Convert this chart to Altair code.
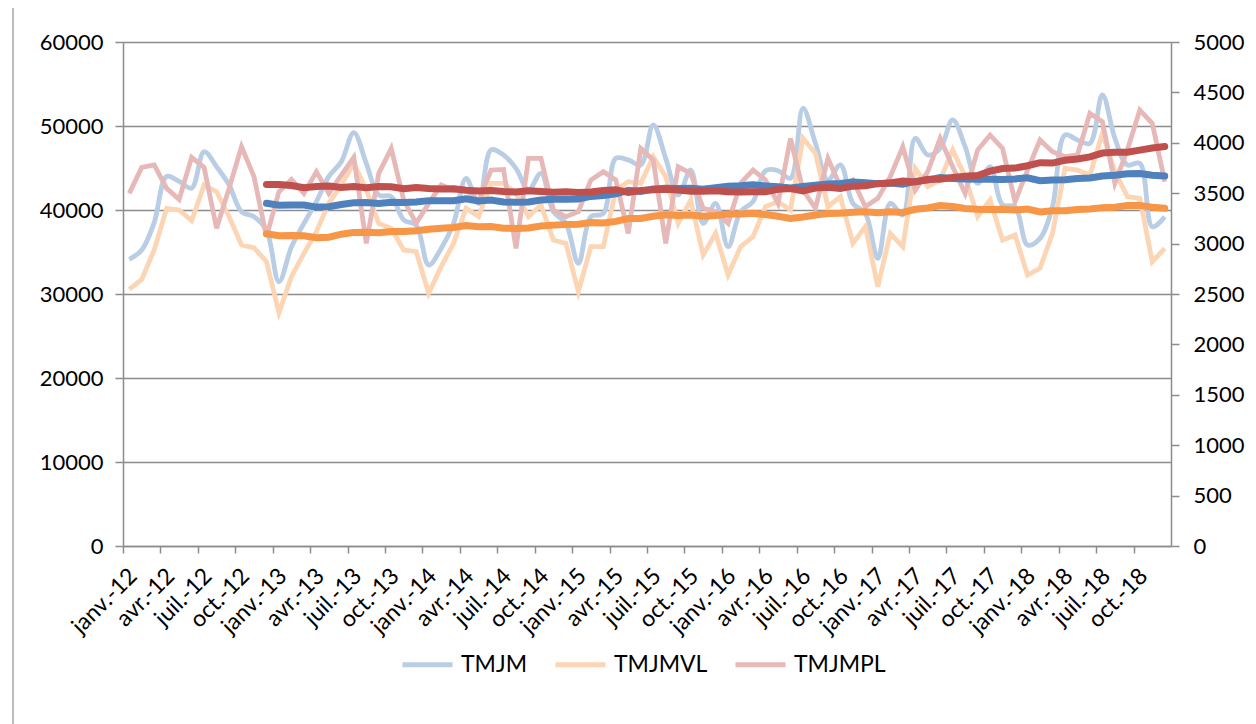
import json
import altair as alt
import pandas as pd

series_names = ["TMJM", "TMJMVL", "TMJMPL"]
light_colors = ["#B9CDE5", "#FCD5B5", "#E6B9B8"]
ma_colors = {"TMJM": "#4F81BD", "TMJMVL": "#F79646", "TMJMPL": "#C0504D"}

tick_labels = [
    "janv.-12", "avr.-12", "juil.-12", "oct.-12",
    "janv.-13", "avr.-13", "juil.-13", "oct.-13",
    "janv.-14", "avr.-14", "juil.-14", "oct.-14",
    "janv.-15", "avr.-15", "juil.-15", "oct.-15",
    "janv.-16", "avr.-16", "juil.-16", "oct.-16",
    "janv.-17", "avr.-17", "juil.-17", "oct.-17",
    "janv.-18", "avr.-18", "juil.-18", "oct.-18",
]

# monthly values, janv. 2012 -> déc. 2018
tmjm = [
    34130, 35240, 38500, 44000, 43400, 42600, 46950, 45160, 43000, 39800, 39200, 37600,
    31460, 35600, 38400, 41000, 44000, 45760, 49210, 45560, 41790, 41590, 38810, 38210,
    33450, 35430, 38410, 43770, 40790, 47150, 46550, 44960, 42380, 44370, 39800, 38410,
    33650, 39210, 39600, 46150, 45960, 45360, 50120, 46150, 41790, 44760, 38410, 40790,
    35630, 39800, 41000, 44680, 44680, 43770, 52110, 47940, 43570, 45360, 40790, 39600,
    34240, 40790, 39400, 48540, 46550, 47340, 50720, 47540, 43170, 45160, 40600, 40400,
    35830, 36620, 40400, 48930, 48340, 47940, 53700, 48540, 45360, 45560, 38010, 39210,
]
tmjmvl = [
    30550, 31740, 35240, 40200, 40000, 38730, 42980, 42180, 39200, 35830, 35500, 33850,
    27770, 32060, 34840, 37420, 40800, 42980, 45560, 42380, 38410, 37820, 35240, 35040,
    30080, 33250, 36030, 40200, 39210, 43180, 43180, 41990, 39210, 40600, 36430, 36030,
    30270, 35630, 35630, 42380, 43370, 43180, 46350, 43970, 38410, 41190, 34640, 37220,
    32260, 35630, 36820, 40400, 40990, 40000, 48540, 46750, 40400, 41590, 36030, 38020,
    30870, 37220, 35630, 44960, 42780, 43570, 47150, 43970, 39210, 41190, 36430, 37020,
    32260, 33060, 37220, 44960, 44760, 44170, 49130, 44570, 41590, 41390, 33850, 35430,
]
tmjmpl = [
    3498, 3756, 3780, 3548, 3439, 3856, 3756, 3151, 3548, 3961, 3664, 3069,
    3515, 3637, 3498, 3713, 3498, 3680, 3855, 3002, 3697, 3945, 3432, 3201,
    3399, 3581, 3531, 3531, 3416, 3730, 3736, 2953, 3846, 3846, 3333, 3267,
    3316, 3631, 3713, 3631, 3101, 3945, 3829, 3002, 3763, 3697, 3350, 3316,
    3201, 3598, 3730, 3631, 3399, 4044, 3531, 3350, 3846, 3565, 3631, 3366,
    3449, 3664, 3961, 3531, 3713, 4044, 3763, 3498, 3928, 4077, 3945, 3416,
    3730, 4028, 3912, 3862, 3879, 4292, 4209, 3598, 3928, 4325, 4193, 3614,
]

rows = []
for name, vals in zip(series_names, [tmjm, tmjmvl, tmjmpl]):
    for i, v in enumerate(vals):
        rows.append({"idx": i, "t": i + 0.5, "serie": name, "value": v})
df = pd.DataFrame(rows)

FONT = "Lato"
GRAY = "#8C8C8C"

label_expr = json.dumps(tick_labels) + "[round(datum.value / 3)]"

x_enc = alt.X(
    "t:Q",
    scale=alt.Scale(domain=[0, 84], nice=False, zero=False),
    axis=alt.Axis(
        values=list(range(0, 84, 3)),
        labelExpr=label_expr,
        labelAngle=315,
        labelAlign="right",
        labelBaseline="middle",
        labelOffset=10,
        labelPadding=19,
        labelFontSize=23,
        labelFont=FONT,
        labelColor="#000000",
        tickSize=7,
        tickColor=GRAY,
        tickWidth=1.5,
        domainColor=GRAY,
        domainWidth=1.5,
        grid=False,
        title=None,
        labelOverlap=False,
    ),
)


def left_scale():
    return alt.Scale(domain=[0, 60000], nice=False, zero=True)


def right_scale():
    return alt.Scale(domain=[0, 5000], nice=False, zero=True)


y_left_axis = alt.Y(
    "value:Q",
    scale=left_scale(),
    axis=alt.Axis(
        values=[0, 10000, 20000, 30000, 40000, 50000, 60000],
        format="d",
        grid=True,
        gridColor=GRAY,
        gridWidth=1.5,
        tickSize=8,
        tickColor=GRAY,
        tickWidth=1.5,
        domainColor=GRAY,
        domainWidth=1.5,
        labelFontSize=22,
        labelFont=FONT,
        labelColor="#000000",
        labelPadding=12,
        title=None,
    ),
)
y_left_noaxis = alt.Y("value:Q", scale=left_scale(), axis=None)
y_right_axis = alt.Y(
    "value:Q",
    scale=right_scale(),
    axis=alt.Axis(
        orient="right",
        values=list(range(0, 5001, 500)),
        format="d",
        grid=False,
        tickSize=8,
        tickColor=GRAY,
        tickWidth=1.5,
        domainColor=GRAY,
        domainWidth=1.5,
        labelFontSize=22,
        labelFont=FONT,
        labelColor="#000000",
        labelPadding=14,
        title=None,
    ),
)

color_enc = alt.Color(
    "serie:N",
    scale=alt.Scale(domain=series_names, range=light_colors),
    legend=alt.Legend(
        orient="none",
        legendX=277,
        legendY=595,
        direction="horizontal",
        title=None,
        symbolType="stroke",
        symbolSize=2500,
        symbolStrokeWidth=5,
        labelFontSize=23,
        labelFont=FONT,
        labelColor="#000000",
        columnPadding=17,
        labelOffset=6,
    ),
)

base = alt.Chart(df)

light_tmjm = base.transform_filter(alt.datum.serie == "TMJM").mark_line(
    interpolate="catmull-rom", strokeWidth=4.8
).encode(x=x_enc, y=y_left_axis, color=color_enc)

light_vl = base.transform_filter(alt.datum.serie == "TMJMVL").mark_line(
    strokeWidth=4.8
).encode(x=x_enc, y=y_left_noaxis, color=color_enc)

light_pl = base.transform_filter(alt.datum.serie == "TMJMPL").mark_line(
    strokeWidth=4.8
).encode(x=x_enc, y=y_right_axis, color=color_enc)


def ma_layer(name, scale):
    return (
        base.transform_filter(alt.datum.serie == name)
        .transform_window(
            ma="mean(value)", frame=[-11, 0], sort=[alt.SortField("t")]
        )
        .transform_filter(alt.datum.idx >= 11)
        .mark_line(strokeWidth=7, color=ma_colors[name], strokeCap="round")
        .encode(
            x=x_enc,
            y=alt.Y("ma:Q", scale=scale, axis=None),
        )
    )


ma_tmjm = ma_layer("TMJM", left_scale())
ma_vl = ma_layer("TMJMVL", left_scale())
ma_pl = ma_layer("TMJMPL", right_scale())

frame = alt.Chart(pd.DataFrame({"a": [0]})).mark_rule(
    color="#A6A6A6", strokeWidth=1.5
).encode(x=alt.value(-110), y=alt.value(-45), y2=alt.value(700))

chart = (
    alt.layer(frame, light_tmjm, light_vl, light_pl, ma_tmjm, ma_vl, ma_pl)
    .resolve_scale(y="independent")
    .properties(
        width=1048,
        height=504,
        autosize=alt.AutoSizeParams(type="none"),
        padding={"left": 115, "top": 34, "right": 77, "bottom": 178},
        background="white",
    )
    .configure_view(stroke=None)
)

chart.save("out.html", embed_options={"renderer": "svg", "actions": False})
